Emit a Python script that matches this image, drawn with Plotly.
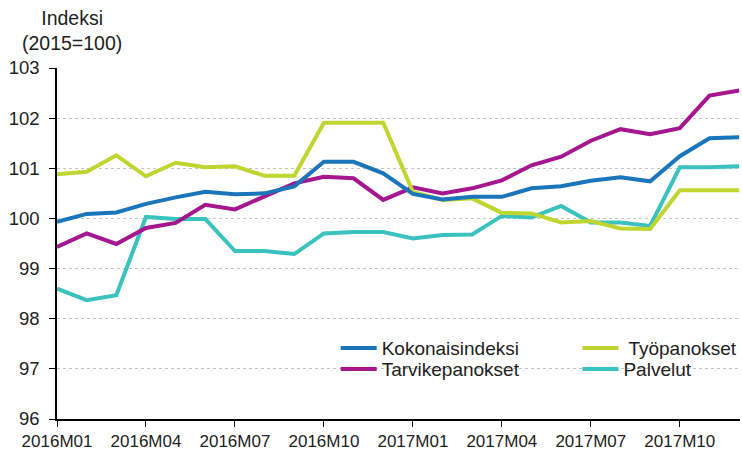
import plotly.graph_objects as go

months = ["2016M01", "2016M02", "2016M03", "2016M04", "2016M05", "2016M06",
          "2016M07", "2016M08", "2016M09", "2016M10", "2016M11", "2016M12",
          "2017M01", "2017M02", "2017M03", "2017M04", "2017M05", "2017M06",
          "2017M07", "2017M08", "2017M09", "2017M10", "2017M11", "2017M12"]

kokonaisindeksi = [99.93, 100.09, 100.12, 100.29, 100.42, 100.53, 100.48, 100.50, 100.64,
                   101.13, 101.13, 100.90, 100.49, 100.38, 100.43, 100.43, 100.60, 100.64,
                   100.75, 100.82, 100.74, 101.24, 101.60, 101.62]
tyopanokset = [100.88, 100.93, 101.26, 100.84, 101.11, 101.02, 101.04, 100.85, 100.85,
               101.91, 101.91, 101.91, 100.53, 100.37, 100.40, 100.11, 100.10, 99.92,
               99.95, 99.80, 99.79, 100.56, 100.56, 100.56]
tarvikepanokset = [99.43, 99.70, 99.49, 99.81, 99.91, 100.27, 100.18, 100.45, 100.70,
                   100.83, 100.80, 100.37, 100.62, 100.50, 100.60, 100.76, 101.06, 101.23,
                   101.55, 101.78, 101.68, 101.80, 102.45, 102.55]
palvelut = [98.60, 98.37, 98.47, 100.03, 99.99, 99.99, 99.35, 99.35, 99.29,
            99.70, 99.73, 99.73, 99.60, 99.67, 99.68, 100.05, 100.02, 100.25,
            99.92, 99.92, 99.85, 101.02, 101.02, 101.04]

tick_labels = ["2016M01", "2016M04", "2016M07", "2016M10",
               "2017M01", "2017M04", "2017M07", "2017M10"]
y_ticks = [96, 97, 98, 99, 100, 101, 102, 103]

FONT = "Liberation Sans, Arial, sans-serif"
TXT = "#222222"

# name, values, colour, legend id, legend x (paper), legend y (paper)
series = [
    ("Kokonaisindeksi", kokonaisindeksi, "#1a75bb", "legend", 0.408, 0.202),
    (" Työpanokset", tyopanokset, "#bed62f", "legend2", 0.762, 0.202),
    ("Tarvikepanokset", tarvikepanokset, "#a5168f", "legend3", 0.408, 0.142),
    ("Palvelut", palvelut, "#3ac2bf", "legend4", 0.762, 0.142),
]

fig = go.Figure()
draw_order = [3, 2, 1, 0]
for idx in draw_order:
    name, vals, color, leg, lx, ly = series[idx]
    fig.add_trace(go.Scatter(
        x=months, y=vals, mode="lines", name=name,
        line=dict(color=color, width=4),
        legend=leg,
    ))

legend_cfg = {}
for name, vals, color, leg, lx, ly in series:
    legend_cfg[leg] = dict(
        x=lx, y=ly, xanchor="left", yanchor="middle",
        font=dict(size=19, family=FONT, color=TXT),
        bgcolor="rgba(0,0,0,0)", borderwidth=0, itemwidth=36,
    )

fig.update_layout(
    width=742, height=450,
    margin=dict(l=57, r=2, t=68, b=31, autoexpand=False),
    plot_bgcolor="white", paper_bgcolor="white",
    font=dict(family=FONT, size=17, color=TXT),
    showlegend=True,
    annotations=[dict(
        text="Indeksi<br>(2015=100)", xref="paper", yref="paper",
        x=0.022, y=1.0, xanchor="center", yanchor="bottom",
        yshift=12, showarrow=False, align="center",
        font=dict(size=19.5, family=FONT, color=TXT),
    )],
    **legend_cfg,
)

fig.update_xaxes(
    type="category", range=[0, 23.03],
    tickmode="array", tickvals=tick_labels, ticktext=tick_labels,
    ticks="outside", ticklen=6, tickcolor="#000000", tickwidth=1,
    showline=True, linecolor="#000000", linewidth=1.5,
    showgrid=False, zeroline=False,
    tickfont=dict(size=17, family=FONT, color=TXT),
)
fig.update_yaxes(
    range=[96, 103], tickvals=y_ticks,
    ticks="outside", ticklen=6, tickcolor="#000000", tickwidth=1,
    showline=True, linecolor="#000000", linewidth=1.5,
    showgrid=True, gridcolor="#c4c4c4", griddash="dot", gridwidth=1,
    zeroline=False, ticklabelstandoff=6,
    tickfont=dict(size=18.5, family=FONT, color=TXT),
)

fig.write_html("out.html", config={"displayModeBar": False},
               post_script="document.body.style.margin='0';document.body.style.padding='0';")
